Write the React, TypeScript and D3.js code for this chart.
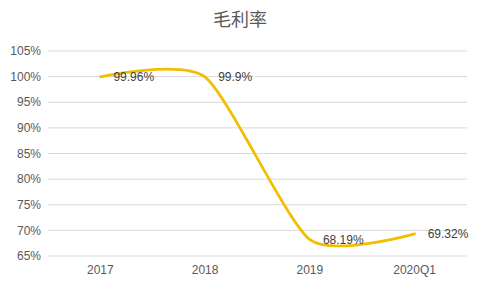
import React from "react";
import * as d3 from "d3";

const categories = ["2017", "2018", "2019", "2020Q1"];
const values = [99.96, 99.9, 68.19, 69.32];
const valueLabels = ["99.96%", "99.9%", "68.19%", "69.32%"];
const yTicks = [65, 70, 75, 80, 85, 90, 95, 100, 105];
const title = "毛利率";

export default function App() {
  const W = 480, H = 288;
  const left = 48, right = 467, top = 51, bottom = 256;
  const x = d3.scaleBand<string>().domain(categories).range([left, right]);
  const y = d3.scaleLinear().domain([65, 105]).range([bottom, top]);
  const cx = (c: string) => (x(c) as number) + x.bandwidth() / 2;
  const line = d3
    .line<number>()
    .x((_, i) => cx(categories[i]))
    .y((d) => y(d))
    .curve(d3.curveCardinal.tension(0.35));
  const font = "'Liberation Sans', Arial, sans-serif";
  return (
    <svg
      width={W}
      height={H}
      style={{ position: "absolute", left: 0, top: 0, background: "#fff" }}
      fontFamily={font}
    >
      <text x={240} y={26} textAnchor="middle" fontSize={18} fill="#595959" fontFamily="'Noto Sans CJK SC', sans-serif">
        {title}
      </text>
      {yTicks.map((t) => (
        <g key={t}>
          <line x1={left} x2={right} y1={y(t)} y2={y(t)} stroke="#d9d9d9" strokeWidth={1} />
          <text x={41} y={y(t)} dy="0.35em" textAnchor="end" fontSize={12} fill="#595959">
            {t}%
          </text>
        </g>
      ))}
      {categories.map((c) => (
        <text key={c} x={cx(c)} y={274} textAnchor="middle" fontSize={12} fill="#595959">
          {c}
        </text>
      ))}
      <path d={line(values) || ""} fill="none" stroke="#F2BE00" strokeWidth={2.75} strokeLinecap="round" />
      {values.map((v, i) => (
        <text key={i} x={cx(categories[i]) + 13} y={y(v)} dy="0.35em" fontSize={12} fill="#404040">
          {valueLabels[i]}
        </text>
      ))}
    </svg>
  );
}
